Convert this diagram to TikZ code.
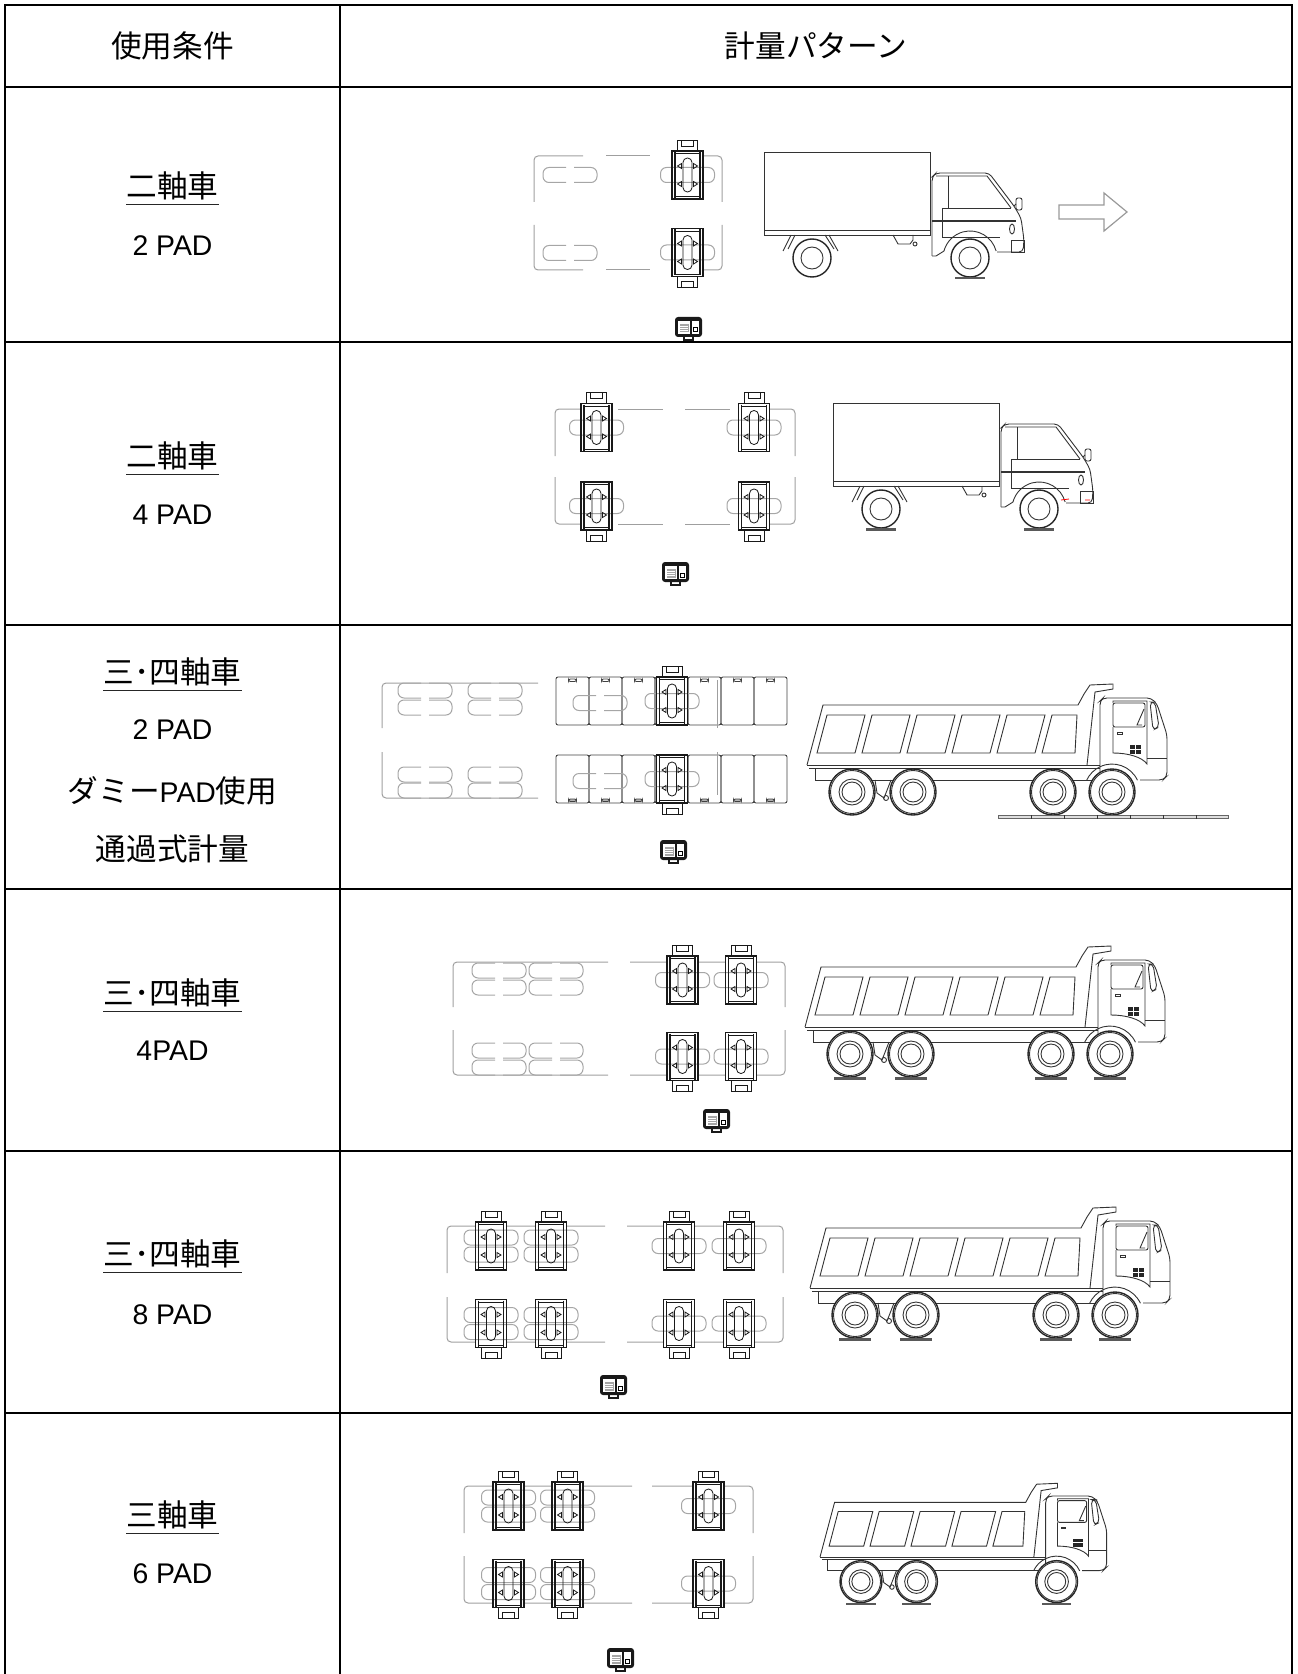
\documentclass[tikz,border=0pt]{standalone}
\usepackage{fontspec}
\setmainfont{Liberation Sans}
\newfontfamily\jp{Noto Sans CJK JP}[Scale=1.08]
\usepackage{tikz}
\tikzstyle{table line}=[draw=black,line width=1pt]
\tikzstyle{cond text}=[inner sep=0pt,font=\fontsize{14.2}{17}\selectfont]
\tikzstyle{under line}=[draw=black!85,line width=0.7pt]
\tikzstyle{body outline}=[draw=gray!75,line width=0.5pt,rounded corners=2pt]
\tikzstyle{tyre mark}=[draw=gray!70,line width=0.5pt,rounded corners=3pt]
\tikzstyle{pad line}=[draw=black!90,line width=0.4pt]
\tikzstyle{ramp plate}=[draw=black!75,line width=0.45pt,rounded corners=1pt]
\tikzstyle{truck line}=[draw=black!80,line width=0.45pt]
\tikzstyle{wheel line}=[draw=black!85,line width=0.7pt,fill=white]
\tikzstyle{ground pad}=[fill=black!65]
\tikzstyle{ground strip}=[draw=black!60,line width=0.35pt,fill=gray!25]
\tikzstyle{move arrow}=[draw=gray!80,line width=0.6pt]

% split tyre print (wheel standing beside the pads)
\newcommand{\splitmark}[2]{%
  \draw[tyre mark] ({#1-4},{#2-7.5}) -- ({#1-27},{#2-7.5}) -- ({#1-27},{#2+7.5}) -- ({#1-4},{#2+7.5});
  \draw[tyre mark] ({#1+4},{#2-7.5}) -- ({#1+27},{#2-7.5}) -- ({#1+27},{#2+7.5}) -- ({#1+4},{#2+7.5});}

% weighing pad, top view: centre x, centre y, handle side (-1 up, 1 down), tyre prints (0,1,2)
\newcommand{\scalepad}[4]{%
\begin{scope}[shift={(#1,#2)}]
  \fill[white] (-15.5,-24) rectangle (15.5,24);
  \ifcase#4\or
    \draw[tyre mark] (-27,-7.5) rectangle (27,7.5);
  \or
    \draw[tyre mark] (-27,-16) rectangle (27,-1);
    \draw[tyre mark] (-27,1) rectangle (27,16);
  \fi
  \draw[pad line,line width=0.6pt] (-15.5,-24) rectangle (15.5,24);
  \draw[pad line,line width=0.9pt] (-12.5,-23) -- (-12.5,23) (12.5,-23) -- (12.5,23);
  \draw[pad line] (-12.5,-21.5) -- (12.5,-21.5) (-12.5,21.5) -- (12.5,21.5);
  \draw[pad line,rounded corners=2.2pt] (-4.5,-17) rectangle (4.5,17);
  \foreach \s in {-1,1}{
    \draw[pad line] (-6,{\s*9-2.5}) -- (-6,{\s*9+2.5}) -- (-10,{\s*9}) -- cycle;
    \draw[pad line] (6,{\s*9-2.5}) -- (6,{\s*9+2.5}) -- (10,{\s*9}) -- cycle;
  }
  % handle
  \draw[pad line] (-10,{24*#3}) rectangle (10,{35*#3});
  \draw[pad line] (-6,{29*#3}) rectangle (6,{35*#3});
\end{scope}}

% indicator box
\newcommand{\indicator}[2]{%
\begin{scope}[shift={(#1,#2)}]
  \fill[black!90,rounded corners=1.5pt] (0,0) rectangle (27,20);
  \fill[white] (3,4) rectangle (15,17);
  \fill[black!35] (4.5,7) rectangle (13.5,15.5);
  \foreach \ly in {9,11,13} \draw[white,line width=0.3pt] (5,\ly) -- (13,\ly);
  \fill[white] (17,4) rectangle (24,17);
  \draw[black,line width=0.5pt] (18.5,11) rectangle (22.5,15);
  \draw[black!90,line width=0.6pt] (9,20) -- (9,23) -- (18,23) -- (18,20);
\end{scope}}

% light truck, side view: box corner x, y, pad under rear wheel (0/1)
\newcommand{\boxtruck}[3]{%
\begin{scope}[shift={(#1,#2)}]
  \draw[truck line] (0,0) rectangle (166,78);
  \draw[truck line] (0,78) rectangle (166,83);
  \draw[truck line] (27,83) -- (19,99) (31,83) -- (24,97);
  \draw[truck line] (65,83) -- (74,99) (61,83) -- (70,97);
  \draw[truck line] (129,83) -- (134,92) -- (146,92) -- (149,88) -- (149,83);
  \draw[truck line] (151,92) circle (2);
  % cab
  \draw[truck line,rounded corners=2pt] (168,104) -- (168,25) -- (172,21) -- (225,21)
     -- (250,54) -- (257,66) -- (260,88) -- (259,100) -- (233,100);
  \draw[truck line] (232.1,99) arc[start angle=-15,end angle=-165,radius=27];
  \draw[truck line] (180,99) -- (172,104) -- (168,104);
  \draw[truck line] (172,24) -- (223,24) -- (247,56);
  \draw[truck line] (184,24) -- (184,56);
  \draw[truck line] (178,56) -- (247,56);
  \draw[truck line] (178,56) -- (178,85) -- (236,85);
  \draw[truck line,line width=0.8pt] (168,69) -- (252,69);
  \draw[truck line] (248,77) ellipse (2.5 and 5);
  \draw[truck line,rounded corners=1pt] (252,46) rectangle (258,58);
  \draw[truck line] (250,54) -- (252,52);
  \draw[truck line] (247,88) rectangle (260,100);
  % wheels
  \foreach \w in {48,206}{
    \draw[wheel line] (\w,106) circle (19);
    \draw[truck line] (\w,106) circle (11);
  }
  \fill[ground pad] (191,125) rectangle (221,127.5);
  \ifnum#3=1 \fill[ground pad] (33,125) rectangle (63,127.5); \fi
\end{scope}}

% dump truck, side view: rear body corner x, y, panels, scale, wheel list, pads under wheels (0/1)
\newcommand{\dumptruck}[6]{%
\begin{scope}[shift={(#1,#2)},scale=#4]
  \pgfmathsetmacro\bodyfront{1+45*#3}
  \pgfmathsetmacro\cabx{\bodyfront+22}
  % tipping body
  \draw[truck line] (0,0) -- (16,-60) -- (\bodyfront,-60) -- ({\bodyfront+6},-71)
     -- ({\bodyfront+12},-80) -- ({\bodyfront+35},-81) -- ({\bodyfront+35},-76)
     -- ({\bodyfront+17},-73) -- ({\bodyfront+9},0);
  \draw[truck line] (0,0) -- (\cabx,0);
  \draw[truck line] (2,3) -- (\cabx,3);
  \draw[truck line] (8,3) -- (8,15) -- (\cabx,15);
  \foreach \i in {1,...,#3}{
    \pgfmathsetmacro\px{45*\i-25}
    \pgfmathsetmacro\pr{min(\px+38,\bodyfront-1)}
    \pgfmathsetmacro\pb{min(\px+28,\bodyfront-3)}
    \draw[truck line] (\px,-50) -- (\pr,-50) -- (\pb,-12) -- ({\px-10},-12) -- cycle;
  }
  % cab
  \draw[truck line,rounded corners=2pt] ({\cabx+40},15) -- ({\cabx+63},15) -- ({\cabx+67},11)
     -- ({\cabx+67},-30) -- ({\cabx+57},-61) -- ({\cabx+51},-67) -- ({\cabx+3},-67)
     -- (\cabx,-64) -- (\cabx,15);
  \draw[truck line] ({\cabx+37.4},15.2) arc[start angle=-25,end angle=-155,radius=28];
  \draw[truck line,rounded corners=1pt] ({\cabx+13},-62) rectangle ({\cabx+45},-38);
  \draw[truck line] ({\cabx+44},-56) -- ({\cabx+37},-40) -- ({\cabx+42},-40);
  \draw[truck line] ({\cabx+13},-38) -- ({\cabx+13},-12) .. controls ({\cabx+28},-12) and ({\cabx+42},-8) .. ({\cabx+47},-1)
     -- ({\cabx+47},-64) -- ({\cabx+13},-64) -- ({\cabx+13},-62);
  \draw[truck line] ({\cabx+47},-7) -- ({\cabx+67},-7);
  \draw[truck line] ({\cabx+17},-33) rectangle ({\cabx+22},-31);
  \foreach \gx/\gy in {30/-20,36/-20,30/-15,36/-15}
    \fill[black!85] ({\cabx+\gx},\gy) rectangle ({\cabx+\gx+5},{\gy+4});
  \draw[truck line,rounded corners=2pt] ({\cabx+50},-63) -- ({\cabx+55},-63) -- ({\cabx+59},-38)
     -- ({\cabx+53},-35) -- cycle;
  % rear suspension
  \draw[truck line] (68,15) -- (70,28) -- (77,33) -- (84,15);
  \draw[truck line] (79,33) circle (2.5);
  % wheels
  \foreach \w in {#5}{
    \draw[wheel line] (\w,27) circle (23);
    \draw[truck line] (\w,27) circle (21.5);
    \draw[truck line] (\w,27) circle (13);
    \draw[truck line] (\w,27) circle (10);
    \ifnum#6=1 \fill[ground pad] ({\w-16},50) rectangle ({\w+16},53); \fi
  }
\end{scope}}

\begin{document}
\begin{tikzpicture}[x=0.5pt,y=-0.5pt]
  \useasboundingbox (0,0) rectangle (1297,1674);

  % TABLE
  \draw[table line] (5,1674) -- (5,5) -- (1292,5) -- (1292,1674);
  \draw[table line] (340,5) -- (340,1674);
  \foreach \ry in {87,342,625,889,1151,1413}
    \draw[table line] (5,\ry) -- (1292,\ry);

  % HEADER
  \node[cond text] (head cond) at (172.5,46) {\jp 使用条件};
  \node[cond text] (head pattern) at (816,46) {\jp 計量パターン};

  % CONDITIONS
  \node[cond text] (axle 1) at (172.5,186) {\jp 二軸車};
  \node[cond text] (pads 1) at (172.5,246) {2 PAD};
  \node[cond text] (axle 2) at (172.5,456) {\jp 二軸車};
  \node[cond text] (pads 2) at (172.5,515) {4 PAD};
  \node[cond text] (axle 3) at (172.5,672) {\jp 三･四軸車};
  \node[cond text] (pads 3) at (172.5,730) {2 PAD};
  \node[cond text] (dummy 3) at (172.5,791) {{\jp ダミー}PAD{\jp 使用}};
  \node[cond text] (pass 3) at (172.5,849) {\jp 通過式計量};
  \node[cond text] (axle 4) at (172.5,993) {\jp 三･四軸車};
  \node[cond text] (pads 4) at (172.5,1051) {4PAD};
  \node[cond text] (axle 5) at (172.5,1254) {\jp 三･四軸車};
  \node[cond text] (pads 5) at (172.5,1315) {8 PAD};
  \node[cond text] (axle 6) at (172.5,1515) {\jp 三軸車};
  \node[cond text] (pads 6) at (172.5,1574) {6 PAD};
  \foreach \n in {1,...,6}
    \draw[under line] ([yshift=-2pt]axle \n.south west) -- ([yshift=-2pt]axle \n.south east);

  % ROW 1: two axles, 2 pads
  \draw[body outline] (534,202) |- (583,156);
  \draw[body outline] (606,156) -- (650,156);
  \draw[body outline] (703,156) -| (722,202);
  \draw[body outline] (534,225) |- (583,270);
  \draw[body outline] (606,270) -- (650,270);
  \draw[body outline] (703,270) -| (722,225);
  \splitmark{570}{175}
  \splitmark{570}{253}
  \scalepad{687.5}{175}{-1}{1}
  \scalepad{687.5}{252.5}{1}{1}
  \indicator{675}{317}
  \boxtruck{764}{152}{0}
  \draw[move arrow] (1059,205) -- (1104,205) -- (1104,193) -- (1127,212) -- (1104,231)
     -- (1104,219) -- (1059,219) -- cycle;

  % ROW 2: two axles, 4 pads
  \draw[body outline] (555,456) |- (581,409);
  \draw[body outline] (618,409) -- (663,409);
  \draw[body outline] (685,409) -- (730,409);
  \draw[body outline] (770,409) -| (795,456);
  \draw[body outline] (555,477) |- (581,524);
  \draw[body outline] (618,524) -- (663,524);
  \draw[body outline] (685,524) -- (730,524);
  \draw[body outline] (770,524) -| (795,477);
  \foreach \px in {596.5,754}{
    \scalepad{\px}{427.5}{-1}{1}
    \scalepad{\px}{506}{1}{1}
  }
  \indicator{662}{562}
  \boxtruck{833}{403}{1}
  \draw[red,line width=0.4pt] (1061,500) -- (1069,499) (1085,500) -- (1090,500);

  % ROW 3: dummy pads, drive-through weighing
  \draw[body outline] (382,728) |- (538,683);
  \draw[body outline] (382,752) |- (538,798);
  \foreach \mx in {425,495}{
    \splitmark{\mx}{690.5} \splitmark{\mx}{707.5}
    \splitmark{\mx}{774.5} \splitmark{\mx}{790.5}
  }
  \foreach \i in {0,...,6}{
    \draw[ramp plate] ({556+33*\i},677) rectangle ({589+33*\i},725);
    \draw[ramp plate] ({568.5+33*\i},679) rectangle ({576.5+33*\i},681.5);
    \draw[ramp plate] ({556+33*\i},755) rectangle ({589+33*\i},803);
    \filldraw[ramp plate,fill=gray!60] ({568.5+33*\i},799) rectangle ({576.5+33*\i},801.5);
  }
  \splitmark{600}{703}
  \splitmark{600}{781}
  \draw[body outline] (717,680) -- (717,728) (717,752) -- (717,795);
  \scalepad{672}{701}{-1}{1}
  \scalepad{672}{779}{1}{1}
  \indicator{660}{840}
  \dumptruck{807}{765}{6}{1}{45,106,246,305}{0}
  \draw[ground strip] (998,815) rectangle (1228,818);
  \foreach \t in {1,...,6}
    \draw[truck line] ({998+33*\t},815) -- ({998+33*\t},819);

  % ROW 4: three/four axles, 4 pads
  \draw[body outline] (453,1007) |- (608,962);
  \draw[body outline] (630,962) -| (785,1007);
  \draw[body outline] (453,1030) |- (608,1075);
  \draw[body outline] (630,1075) -| (785,1030);
  \foreach \mx in {499,556}{
    \splitmark{\mx}{970.5} \splitmark{\mx}{987.5}
    \splitmark{\mx}{1050.5} \splitmark{\mx}{1067.5}
  }
  \foreach \px in {682.5,741}{
    \scalepad{\px}{980}{-1}{1}
    \scalepad{\px}{1056.5}{1}{1}
  }
  \indicator{703}{1109}
  \dumptruck{805}{1027}{6}{1}{45,106,246,305}{1}

  % ROW 5: three/four axles, 8 pads
  \draw[body outline] (447,1273) |- (605,1226);
  \draw[body outline] (627,1226) -| (783,1273);
  \draw[body outline] (447,1297) |- (605,1342);
  \draw[body outline] (627,1342) -| (783,1297);
  \foreach \px in {491,551}{
    \scalepad{\px}{1246}{-1}{2}
    \scalepad{\px}{1323.5}{1}{2}
  }
  \foreach \px in {679,739}{
    \scalepad{\px}{1246}{-1}{1}
    \scalepad{\px}{1323.5}{1}{1}
  }
  \indicator{600}{1375}
  \dumptruck{810}{1288}{6}{1}{45,106,246,305}{1}

  % ROW 6: three axles, 6 pads
  \draw[body outline] (464,1533) |- (632,1486);
  \draw[body outline] (652,1486) -| (753,1533);
  \draw[body outline] (464,1556) |- (632,1603);
  \draw[body outline] (652,1603) -| (753,1556);
  \foreach \px in {508.5,567.5}{
    \scalepad{\px}{1506}{-1}{2}
    \scalepad{\px}{1583.5}{1}{2}
  }
  \scalepad{708.5}{1506}{-1}{1}
  \scalepad{708.5}{1583.5}{1}{1}
  \indicator{607}{1648}
  \dumptruck{820}{1557}{5}{0.91}{45,106,260}{1}
\end{tikzpicture}
\end{document}
